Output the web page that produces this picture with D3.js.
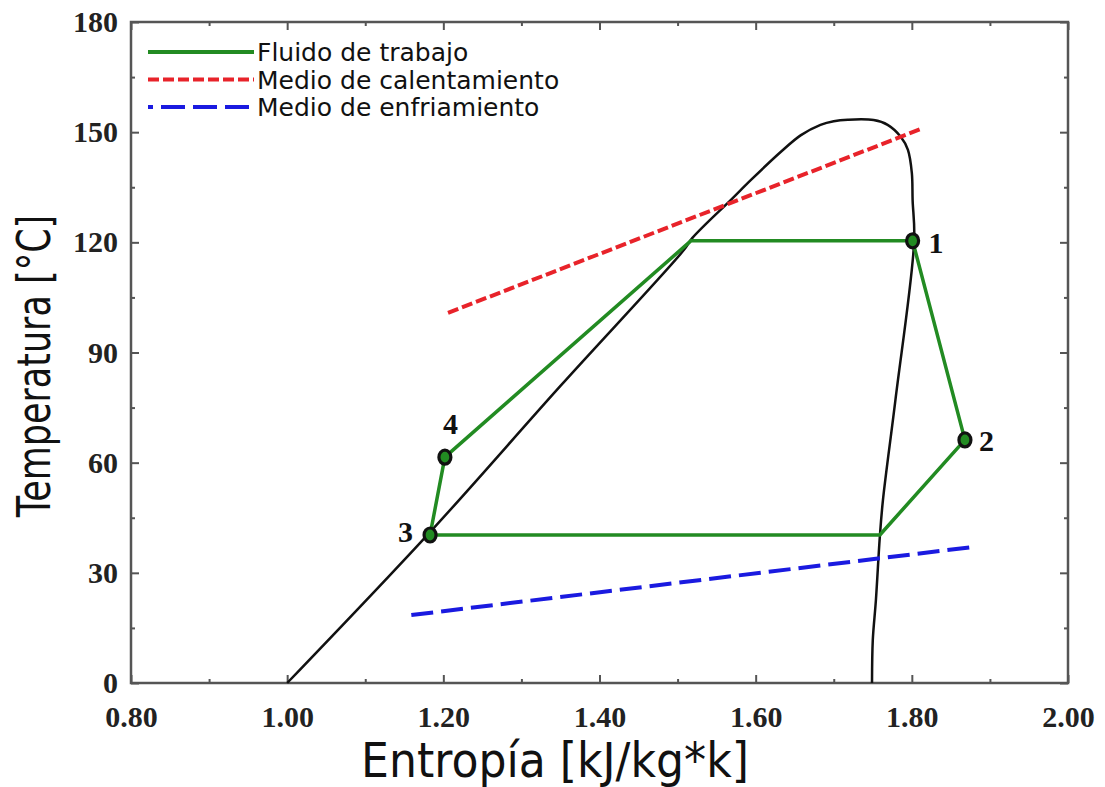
<!DOCTYPE html>
<html lang="es">
<head>
<meta charset="UTF-8">
<title>Diagrama T-s</title>
<style>
    body { margin: 0; background: #fff; }
    svg { display: block; }
    .tick text { font-family: "Liberation Serif", serif; font-weight: bold; font-size: 30px; fill: #222; }
    .axis path { display: none; }
    .axis line { stroke: #555; stroke-width: 2; }
</style>
</head>
<body>
<svg id="chart" width="1105" height="787"></svg>
<script src="https://d3js.org/d3.v7.min.js"></script>
<script>
// saturation dome (entropy kJ/kg*K, temperature °C)
const domeS = [1.000, 1.183, 1.350, 1.508, 1.519, 1.568, 1.594, 1.632, 1.658, 1.683, 1.700, 1.718, 1.751,
               1.769, 1.786, 1.795, 1.800, 1.801, 1.803, 1.779, 1.763, 1.759, 1.754, 1.750, 1.749];
const domeT = [0, 41.1, 80.9, 117.9, 121.2, 131.5, 137.0, 144.6, 149.2, 152.0, 153.0, 153.4, 153.3,
               152.0, 148.7, 145.2, 138.9, 131.5, 120.4, 77.1, 49.8, 39.8, 22.6, 11.7, 0];

// working fluid cycle
const cycleS = [1.801, 1.868, 1.759, 1.183, 1.202, 1.517, 1.801];
const cycleT = [120.4, 66.2, 40.3, 40.3, 61.5, 120.4, 120.4];

// numbered state points
const pointNames = ["1", "2", "3", "4"];
const pointS = [1.801, 1.868, 1.183, 1.202];
const pointT = [120.4, 66.2, 40.3, 61.5];

// heating and cooling media
const heatS = [1.206, 1.812];
const heatT = [100.8, 150.9];
const coolS = [1.159, 1.877];
const coolT = [18.5, 37.0];

const xMajor = [0.8, 1.0, 1.2, 1.4, 1.6, 1.8, 2.0];
const xMinor = [0.9, 1.1, 1.3, 1.5, 1.7, 1.9];
const yMajor = [0, 30, 60, 90, 120, 150, 180];
const yMinor = [15, 45, 75, 105, 135, 165];

const legendNames = ["Fluido de trabajo", "Medio de calentamiento", "Medio de enfriamiento"];

const padL = 131, padR = 1068, padT = 22, padB = 683;
const green = "#228b22", red = "#e8232a", blue = "#1a1ae0";

const svg = d3.select("#chart");
const x = d3.scaleLinear().domain([0.8, 2.0]).range([padL, padR]);
const y = d3.scaleLinear().domain([0, 180]).range([padB, padT]);

// axes: inward ticks on all four sides
function addAxis(axis, tx, ty, labels) {
    const g = svg.append("g").attr("class", "axis")
        .attr("transform", `translate(${tx},${ty})`).call(axis);
    if (!labels) g.selectAll("text").remove();
    return g;
}
const xb = addAxis(d3.axisBottom(x).tickValues(xMajor).tickSize(-8).tickFormat(d3.format(".2f")), 0, padB, true);
xb.selectAll("text").attr("y", 23).attr("dy", "0.71em");
addAxis(d3.axisBottom(x).tickValues(xMinor).tickSize(-4), 0, padB, false);
addAxis(d3.axisTop(x).tickValues(xMajor).tickSize(-8), 0, padT, false);
addAxis(d3.axisTop(x).tickValues(xMinor).tickSize(-4), 0, padT, false);
const yl = addAxis(d3.axisLeft(y).tickValues(yMajor).tickSize(-8), padL, 0, true);
yl.selectAll("text").attr("x", -13);
addAxis(d3.axisLeft(y).tickValues(yMinor).tickSize(-4), padL, 0, false);
addAxis(d3.axisRight(y).tickValues(yMajor).tickSize(-8), padR, 0, false);
addAxis(d3.axisRight(y).tickValues(yMinor).tickSize(-4), padR, 0, false);

svg.append("rect").attr("x", padL).attr("y", padT)
    .attr("width", padR - padL).attr("height", padB - padT)
    .attr("fill", "none").attr("stroke", "#555").attr("stroke-width", 2.5);

const line = d3.line().x(d => x(d[0])).y(d => y(d[1]));

// dome
svg.append("path")
    .datum(d3.zip(domeS, domeT))
    .attr("d", line.curve(d3.curveCatmullRom.alpha(0.5)))
    .attr("fill", "none").attr("stroke", "#111").attr("stroke-width", 2.5);
line.curve(d3.curveLinear);

// heating medium
svg.append("path")
    .datum(d3.zip(heatS, heatT))
    .attr("d", line)
    .attr("fill", "none").attr("stroke", red).attr("stroke-width", 4)
    .attr("stroke-dasharray", "11,4");

// cooling medium
svg.append("path")
    .datum(d3.zip(coolS, coolT))
    .attr("d", line)
    .attr("fill", "none").attr("stroke", blue).attr("stroke-width", 4)
    .attr("stroke-dasharray", "22,8");

// cycle
svg.append("path")
    .datum(d3.zip(cycleS, cycleT))
    .attr("d", line)
    .attr("fill", "none").attr("stroke", green).attr("stroke-width", 3.5)
    .attr("stroke-linejoin", "round");

// state points
const pts = d3.range(pointNames.length);
svg.selectAll(".pt").data(pts).enter().append("ellipse")
    .attr("class", "pt")
    .attr("cx", i => x(pointS[i])).attr("cy", i => y(pointT[i]))
    .attr("rx", 6).attr("ry", 7)
    .attr("fill", green).attr("stroke", "#111").attr("stroke-width", 3.2);

const labelOffset = [[16, 12], [14, 11], [-32, 7], [-2, -23]];
svg.selectAll(".plabel").data(pts).enter().append("text")
    .attr("class", "plabel")
    .attr("x", i => x(pointS[i]) + labelOffset[i][0])
    .attr("y", i => y(pointT[i]) + labelOffset[i][1])
    .attr("font-family", "Liberation Serif, serif")
    .attr("font-weight", "bold")
    .attr("font-size", 30)
    .attr("fill", "#111")
    .text(i => pointNames[i]);

// legend
const legendStyles = [
    {color: green, dash: null},
    {color: red, dash: "11,4"},
    {color: blue, dash: "5,8,24,8,24,8,24,8"}
];
legendNames.forEach((name, i) => {
    const ly = 52 + i * 27.5;
    svg.append("line")
        .attr("x1", 148).attr("x2", 254).attr("y1", ly).attr("y2", ly)
        .attr("stroke", legendStyles[i].color).attr("stroke-width", 4)
        .attr("stroke-dasharray", legendStyles[i].dash);
    svg.append("text")
        .attr("x", 257).attr("y", ly + 9)
        .attr("font-family", "DejaVu Sans, sans-serif")
        .attr("font-size", 25)
        .attr("fill", "#111")
        .text(name);
});

// axis titles
svg.append("text")
    .attr("transform", "translate(555,777) scale(0.92,1)")
    .attr("text-anchor", "middle")
    .attr("font-family", "DejaVu Sans, sans-serif")
    .attr("font-size", 48)
    .attr("fill", "#111")
    .text("Entropía [kJ/kg*k]");

svg.append("text")
    .attr("transform", "translate(50,366) rotate(-90) scale(0.76,1)")
    .attr("text-anchor", "middle")
    .attr("font-family", "DejaVu Sans, sans-serif")
    .attr("font-size", 46)
    .attr("fill", "#111")
    .text("Temperatura [°C]");
</script>
</body>
</html>
